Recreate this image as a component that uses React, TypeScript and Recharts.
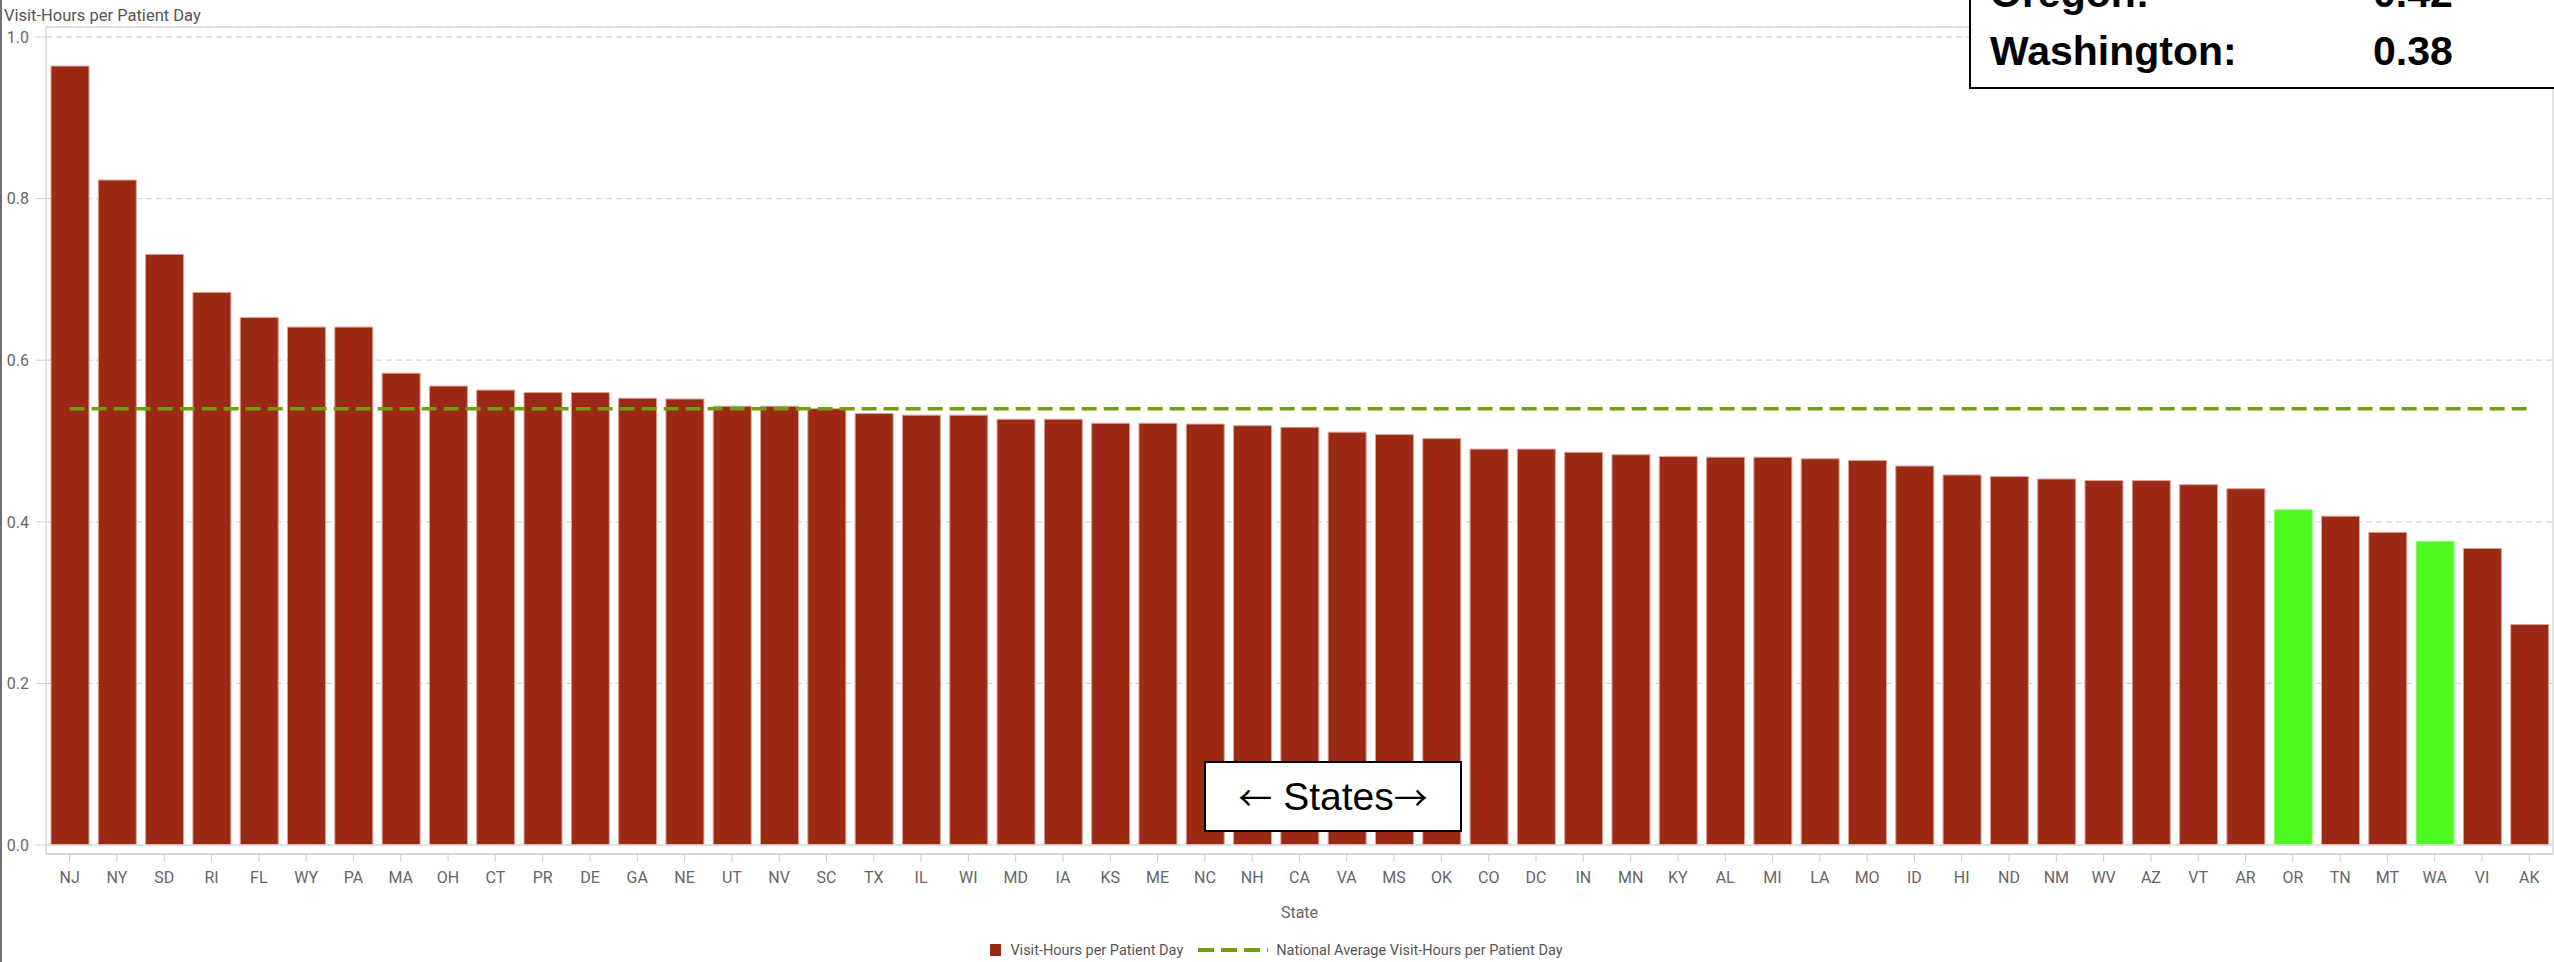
import {
  ComposedChart,
  Bar,
  Line,
  Cell,
  XAxis,
  YAxis,
  CartesianGrid,
  Legend,
  ReferenceArea,
  ReferenceLine,
} from 'recharts';

const states = [
  'NJ', 'NY', 'SD', 'RI', 'FL', 'WY', 'PA', 'MA', 'OH', 'CT', 'PR', 'DE', 'GA', 'NE',
  'UT', 'NV', 'SC', 'TX', 'IL', 'WI', 'MD', 'IA', 'KS', 'ME', 'NC', 'NH', 'CA', 'VA',
  'MS', 'OK', 'CO', 'DC', 'IN', 'MN', 'KY', 'AL', 'MI', 'LA', 'MO', 'ID', 'HI', 'ND',
  'NM', 'WV', 'AZ', 'VT', 'AR', 'OR', 'TN', 'MT', 'WA', 'VI', 'AK',
];

const visitHours = [
  0.964, 0.823, 0.731, 0.684, 0.653, 0.641, 0.641, 0.584, 0.568, 0.563, 0.56, 0.56, 0.553, 0.552,
  0.543, 0.543, 0.54, 0.534, 0.532, 0.532, 0.527, 0.527, 0.522, 0.522, 0.521, 0.519, 0.517, 0.511,
  0.508, 0.503, 0.49, 0.49, 0.486, 0.483, 0.481, 0.48, 0.48, 0.478, 0.476, 0.469, 0.458, 0.456,
  0.453, 0.451, 0.451, 0.446, 0.441, 0.415, 0.407, 0.387, 0.376, 0.367, 0.273,
];

const nationalAverage = 0.54;
const highlighted = ['OR', 'WA'];
const yTicks = [0, 0.2, 0.4, 0.6, 0.8, 1.0];

const calloutRows = [
  { label: 'Oregon:', value: '0.42' },
  { label: 'Washington:', value: '0.38' },
];

const data = states.map((state, i) => ({
  state,
  value: visitHours[i],
  avg: nationalAverage,
}));

const barColor = '#9b2914';
const highlightColor = '#4ef922';
const avgColor = '#729d0c';
const axisFont = 'Roboto, "Noto Sans", sans-serif';

function ChartLegend({ payload }: any) {
  // bar entry first, then the average line
  const items = [...(payload || [])].sort(
    (a: any, b: any) => (a.type === 'line' ? 1 : 0) - (b.type === 'line' ? 1 : 0)
  );
  return (
    <div
      style={{
        display: 'flex',
        justifyContent: 'center',
        alignItems: 'center',
        height: 24,
        fontFamily: axisFont,
        fontSize: 14.5,
        color: '#555',
      }}
    >
      {items.map((entry: any, i: number) => (
        <div key={i} style={{ display: 'flex', alignItems: 'center', marginLeft: i > 0 ? 15 : 0 }}>
          {entry.type === 'line' ? (
            <svg width={70} height={6} style={{ marginRight: 8 }}>
              <line x1={0} y1={3} x2={70} y2={3} stroke={avgColor} strokeWidth={4} strokeDasharray="16 7" />
            </svg>
          ) : (
            <span style={{ width: 11, height: 12, background: barColor, marginRight: 9, display: 'inline-block' }} />
          )}
          <span>{entry.value}</span>
        </div>
      ))}
    </div>
  );
}

export default function App() {
  const boxFont = '"Liberation Sans", "DejaVu Sans", sans-serif';
  const arrowFont = '"Noto Sans CJK JP", "DejaVu Sans", sans-serif';
  return (
    <div
      style={{
        position: 'absolute',
        left: 0,
        top: 0,
        width: 2554,
        height: 962,
        overflow: 'hidden',
        background: '#fff',
      }}
    >
      <ComposedChart
        width={2554}
        height={962}
        data={data}
        margin={{ top: 27, right: 1, left: 0, bottom: 0 }}
      >
        <CartesianGrid vertical={false} stroke="#d6d6d6" strokeDasharray="6 4" strokeWidth={1.3} />
        <ReferenceArea
          y1={-0.0111}
          y2={1.0124}
          fill="none"
          stroke="#dadada"
          strokeWidth={1.5}
          ifOverflow="visible"
        />
        <ReferenceLine y={0} stroke="#dcdcdc" strokeWidth={1.5} />
        <XAxis
          dataKey="state"
          interval={0}
          height={84}
          tickSize={8}
          tickMargin={10}
          axisLine={{ stroke: '#d6d6d6', strokeWidth: 2 }}
          tickLine={{ stroke: '#cfcfcf' }}
          tick={{ fill: '#666', fontSize: 16, fontFamily: axisFont }}
          label={{
            value: 'State',
            position: 'insideBottom',
            offset: 20,
            fill: '#666',
            fontSize: 16,
            fontFamily: axisFont,
          }}
        />
        <YAxis
          width={46}
          domain={[-0.0111, 1.0124]}
          ticks={yTicks}
          tickFormatter={(v: number) => v.toFixed(1)}
          tickSize={10}
          tickMargin={7}
          axisLine={false}
          tickLine={{ stroke: '#d0d0d0' }}
          tick={{ fill: '#666', fontSize: 16, fontFamily: axisFont }}
          label={({ viewBox }: any) => (
            <text
              x={(viewBox?.x ?? 0) + 4}
              y={(viewBox?.y ?? 27) - 6}
              fill="#555"
              fontSize={16.5}
              fontFamily={axisFont}
            >
              Visit-Hours per Patient Day
            </text>
          )}
        />
        <Legend verticalAlign="bottom" align="center" itemSorter={null as any} content={<ChartLegend />} />
        <Bar
          dataKey="value"
          name="Visit-Hours per Patient Day"
          barSize={38}
          fill={barColor}
          stroke="#d9a497"
          strokeWidth={1}
          legendType="square"
          isAnimationActive={false}
        >
          {data.map((d) => (
            <Cell
              key={d.state}
              fill={highlighted.includes(d.state) ? highlightColor : barColor}
              stroke={highlighted.includes(d.state) ? '#9dfb80' : '#d9a497'}
            />
          ))}
        </Bar>
        <Line
          dataKey="avg"
          name="National Average Visit-Hours per Patient Day"
          type="linear"
          stroke={avgColor}
          strokeWidth={3.5}
          strokeDasharray="15 7"
          dot={false}
          activeDot={false}
          legendType="line"
          isAnimationActive={false}
        />
      </ComposedChart>

      <div
        style={{
          position: 'absolute',
          left: 1204,
          top: 761,
          width: 258,
          height: 71,
          boxSizing: 'border-box',
          border: '2px solid #000',
          background: '#fff',
          display: 'flex',
          alignItems: 'center',
          justifyContent: 'center',
          fontFamily: boxFont,
          fontSize: 39,
          color: '#000',
          whiteSpace: 'pre',
        }}
      >
        <span style={{ fontFamily: arrowFont, fontSize: 34 }}>{'\u2190'}</span>
        <span>{' States'}</span>
        <span style={{ fontFamily: arrowFont, fontSize: 34 }}>{'\u2192'}</span>
      </div>

      <div
        style={{
          position: 'absolute',
          left: 1969,
          top: -40,
          width: 640,
          border: '2px solid #000',
          background: '#fff',
          padding: '2px 0 7px 19px',
          fontFamily: boxFont,
          fontWeight: 700,
          fontSize: 41,
          lineHeight: '58px',
          color: '#000',
        }}
      >
        {calloutRows.map((r) => (
          <div key={r.label} style={{ whiteSpace: 'nowrap' }}>
            <span style={{ display: 'inline-block', width: 383 }}>{r.label}</span>
            <span>{r.value}</span>
          </div>
        ))}
      </div>

      <div style={{ position: 'absolute', left: 0, top: 0, width: 2, height: 962, background: '#707070' }} />
    </div>
  );
}
